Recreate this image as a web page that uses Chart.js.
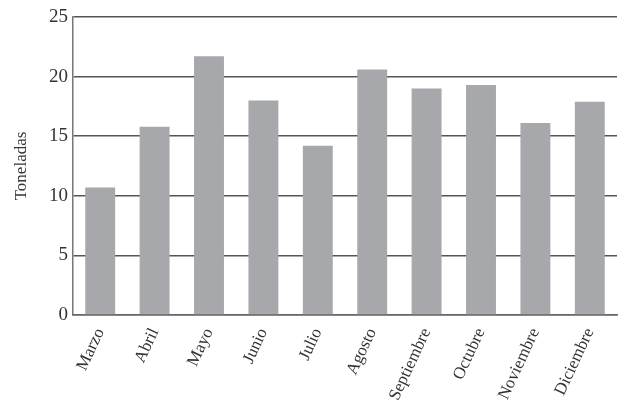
<!DOCTYPE html>
<html>
<head>
<meta charset="utf-8">
<script src="https://cdn.jsdelivr.net/npm/chart.js@4"></script>
<style>
  html, body { margin: 0; padding: 0; background: #fff; }
  #wrap { width: 626px; height: 403px; }
</style>
</head>
<body>
<div id="wrap"><canvas id="chart"></canvas></div>
<script>
// Data
const months = ['Marzo', 'Abril', 'Mayo', 'Junio', 'Julio', 'Agosto', 'Septiembre', 'Octubre', 'Noviembre', 'Diciembre'];
const tons = [10.7, 15.8, 21.7, 18.0, 14.2, 20.6, 19.0, 19.3, 16.1, 17.9];
const yTicks = [0, 5, 10, 15, 20, 25];

const serif = "'Liberation Serif', 'DejaVu Serif', serif";

const ctx = document.getElementById('chart').getContext('2d');
new Chart(ctx, {
    type: 'bar',
    data: {
        labels: months,
        datasets: [{
            label: 'Toneladas',
            data: tons,
            backgroundColor: '#a7a8ab',
            borderWidth: 0,
            barPercentage: 0.55,
            categoryPercentage: 1.0
        }]
    },
    options: {
        responsive: true,
        maintainAspectRatio: false,
        animation: false,
        layout: {
            padding: { top: 17, right: 9, left: 0, bottom: 0 }
        },
        scales: {
            y: {
                min: 0,
                max: 25,
                afterBuildTicks: function(scale) {
                    scale.ticks = yTicks.map(v => ({ value: v }));
                },
                afterFit: function(scale) {
                    scale.width = 73;
                },
                title: {
                    display: true,
                    text: 'Toneladas',
                    color: '#333',
                    padding: { top: 11, bottom: 0 },
                    font: { family: serif, size: 17 }
                },
                ticks: {
                    color: '#333',
                    padding: 5,
                    font: { family: serif, size: 19 }
                },
                grid: {
                    color: '#555',
                    lineWidth: 1.5,
                    drawTicks: false
                },
                border: {
                    display: true,
                    color: '#777',
                    width: 1.5
                }
            },
            x: {
                afterFit: function(scale) {
                    scale.height = 88;
                },
                ticks: {
                    color: '#333',
                    maxRotation: 65,
                    minRotation: 65,
                    padding: 2,
                    font: { family: serif, size: 17 }
                },
                grid: {
                    display: false
                },
                border: {
                    display: true,
                    color: '#666',
                    width: 1.5
                }
            }
        },
        plugins: {
            legend: { display: false },
            tooltip: { enabled: false }
        }
    }
});
</script>
</body>
</html>
